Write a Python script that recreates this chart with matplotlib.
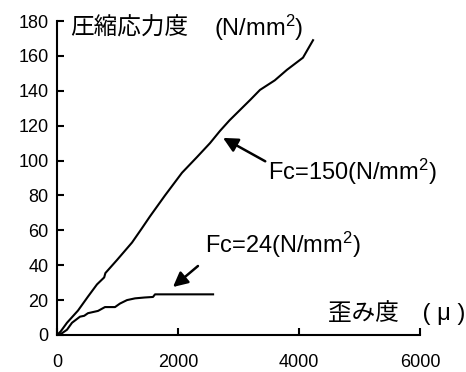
import numpy as np
import matplotlib
matplotlib.use("Agg")
import matplotlib.pyplot as plt

plt.rcParams['font.family'] = ['Liberation Sans', 'Noto Sans CJK JP', 'DejaVu Sans']
plt.rcParams['mathtext.fontset'] = 'custom'
plt.rcParams['mathtext.rm'] = 'Liberation Sans'
plt.rcParams['mathtext.it'] = 'Liberation Sans:italic'

# strain (micro) / stress (N/mm2)
fc150_strain = [0, 60, 165, 347, 512, 661, 780, 800, 992, 1240, 1400, 1537, 1785,
                2066, 2314, 2529, 2694, 2850, 3025, 3200, 3355, 3600, 3800, 4066, 4232]
fc150_stress = [0, 2, 7, 14, 22, 29, 33, 35.5, 43, 53, 61, 68, 80,
                93, 102, 110, 117, 123, 129, 135, 140.5, 146, 152, 159, 169]

fc24_strain = [0, 60, 165, 248, 380, 450, 512, 678, 793, 959, 1040, 1157, 1290,
               1450, 1587, 1620, 2000, 2580]
fc24_stress = [0, 0.5, 3, 7, 10.5, 11, 12.5, 13.8, 16, 16, 18, 20, 21,
               21.5, 21.8, 23.3, 23.3, 23.3]

x_ticks = [0, 2000, 4000, 6000]
y_ticks = list(range(0, 181, 20))

fig = plt.figure(figsize=(4.66, 3.72), dpi=100)
ax = fig.add_axes([0.1223, 0.0995, 0.779, 0.844])

ax.plot(fc150_strain, fc150_stress, color='black', lw=1.5)
ax.plot(fc24_strain, fc24_stress, color='black', lw=1.5)

ax.set_xlim(0, 6000)
ax.set_ylim(0, 180)
ax.set_xticks(x_ticks)
ax.set_yticks(y_ticks)
ax.spines['top'].set_visible(False)
ax.spines['right'].set_visible(False)
ax.spines['left'].set_linewidth(1.5)
ax.spines['bottom'].set_linewidth(1.5)
ax.tick_params(axis='x', direction='in', length=5, width=1.5, pad=14, labelsize=13)
ax.tick_params(axis='y', direction='in', length=5, width=1.5, pad=6, labelsize=13)

# axis titles inside the plot (japanese part separate so mathtext doesn't eat the CJK fallback)
ax.text(215, 176, '圧縮応力度', fontsize=17, va='center', ha='left')
ax.text(2590, 176, '(N/mm$^2$)', fontsize=17, va='center', ha='left')
ax.text(4480, 12.6, '歪み度\u3000( μ )', fontsize=17, va='center', ha='left', clip_on=False)

ax.annotate('Fc=150(N/mm$^2$)', xy=(2744, 113), xytext=(3488, 93.5), fontsize=17,
            va='center', ha='left',
            arrowprops=dict(arrowstyle='-|>', color='black', lw=1.8, mutation_scale=22,
                            shrinkA=0, shrinkB=0, relpos=(0, 0.8)))
ax.annotate('Fc=24(N/mm$^2$)', xy=(1917, 27.5), xytext=(2446, 51.6), fontsize=17,
            va='center', ha='left',
            arrowprops=dict(arrowstyle='-|>', color='black', lw=1.8, mutation_scale=22,
                            shrinkA=4, shrinkB=0, relpos=(0, 0)))

fig.savefig('out.png', dpi=100)
